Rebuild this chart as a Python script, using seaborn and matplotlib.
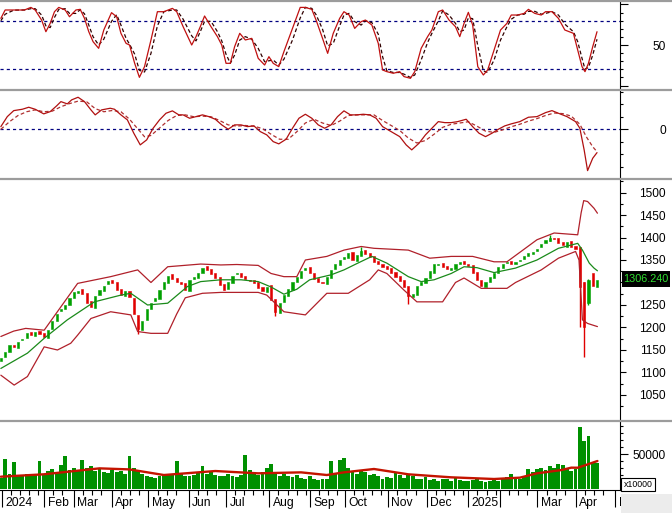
import numpy as np
import matplotlib
matplotlib.use("Agg")
import matplotlib.pyplot as plt
import matplotlib.transforms as mtransforms
from matplotlib.patches import Rectangle
from matplotlib.lines import Line2D
import seaborn as sns

# ---------------- data (x positions are candle index units) ----------------
closes = [1132,1145,1160,1156,1168,1175,1187,1183,1190,1186,
          1178,1194,1215,1231,1240,1250,1265,1278,1282,1274,
          1255,1245,1270,1283,1292,1303,1298,1284,1272,1280,
          1268,1230,1196,1215,1242,1255,1266,1283,1300,1315,
          1308,1300,1296,1283,1305,1312,1322,1333,1328,1318,
          1310,1294,1283,1300,1315,1320,1312,1308,1303,1298,
          1288,1280,1291,1262,1235,1254,1272,1285,1300,1313,
          1326,1332,1320,1308,1300,1298,1312,1328,1340,1350,
          1357,1366,1350,1362,1370,1364,1356,1346,1340,1335,
          1330,1322,1313,1304,1290,1270,1275,1292,1300,1309,
          1325,1340,1342,1335,1330,1332,1340,1346,1342,1336,
          1322,1305,1292,1302,1312,1322,1335,1342,1346,1342,
          1345,1350,1358,1365,1368,1375,1385,1394,1398,1396,
          1387,1384,1390,1380,1375,1290,1200,1305,1292,1306]
opens = [1125,1134,1146,1162,1154,1172,1176,1190,1181,1192,
         1188,1176,1196,1214,1236,1242,1250,1266,1276,1286,
         1276,1258,1244,1272,1280,1296,1305,1300,1286,1270,
         1282,1266,1228,1194,1217,1240,1258,1264,1285,1298,
         1318,1310,1302,1298,1282,1308,1310,1320,1336,1330,
         1320,1312,1296,1285,1298,1318,1322,1314,1306,1305,
         1300,1290,1278,1294,1264,1232,1256,1270,1283,1302,
         1311,1328,1334,1322,1310,1302,1296,1310,1330,1338,
         1352,1355,1368,1348,1360,1372,1366,1358,1348,1342,
         1337,1332,1324,1315,1306,1292,1268,1272,1294,1298,
         1310,1322,1338,1344,1337,1328,1330,1342,1348,1340,
         1338,1324,1306,1290,1300,1310,1320,1333,1344,1348,
         1340,1347,1352,1360,1364,1370,1378,1388,1392,1400,
         1398,1389,1380,1392,1382,1380,1300,1254,1320,1290]
wick_x = [32, 64, 95, 84, 128, 135, 136, 137]
wick_lo = [1186, 1226, 1253, 1362, 1392, 1201, 1135, 1250]
wick_hi = [1218, 1256, 1276, 1378, 1405, 1380, 1302, 1308]

volume = [16000,43000,22000,38000,20000,19000,21000,18000,20000,40000,
          22000,26000,28000,24000,35000,47000,27000,30000,26000,42000,
          30000,33000,26000,28000,25000,23000,27000,24000,26000,22000,
          47000,30000,27000,22000,19000,17000,16000,18000,22000,21000,
          20000,40000,22000,19000,18000,20000,24000,33000,22000,25000,
          20000,19000,18000,21000,19000,17000,20000,48000,27000,22000,
          20000,24000,30000,36000,24000,18000,22000,19000,17000,20000,
          16000,15000,18000,14000,13000,15000,14000,40000,22000,42000,
          44000,30000,25000,22000,26000,24000,20000,22000,18000,15000,
          17000,16000,24000,20000,16000,22000,18000,14000,15000,17000,
          13000,14000,12000,15000,14000,12000,16000,13000,11000,12000,
          13000,14000,11000,10000,12000,13000,11000,14000,17000,22000,
          15000,14000,17000,28000,24000,28000,30000,27000,33000,30000,
          36000,34000,30000,26000,28000,89000,69000,75000,38000,37000]
vma_x = [0,10,23,30,38,50,60,70,76,80,87,95,105,115,121,125,130.6,133,134.5,136.4,139.1]
vma_v = [17600,21000,29500,28000,20000,25700,22400,23800,20000,23800,28600,21000,
         16700,14300,16200,22400,27000,30500,30400,34300,40000]

up_x = [0,3,5.8,10.1,14,17.9,25.6,31.9,35,38.9,46.6,51.3,55,60,63,66,69,71,76,80,
        84,87,95,100,105,110,115,118,125,129,134.5,135.3,135.9,136.8,138.3,139.1]
up_v = [1180,1192,1198,1194,1246,1298,1313,1328,1300,1335,1341,1339,1340,1338,1320,1313,1313,1350,1358,1372,
        1380,1376,1372,1354,1358,1358,1346,1346,1395,1410,1406,1455,1482,1480,1465,1454]
lo_x = [0,3.1,6.2,10.1,13.2,16.3,17.9,21,25.6,30.3,31.9,35,38.9,41,43,47,51.3,56,60,62,
        66,71,76,81,86,88,90,94,97,103,106,108,112,118,120,126,130,134,134.8,135.6,136.8,139.1]
lo_v = [1094,1072,1091,1157,1150,1165,1183,1220,1235,1228,1191,1187,1187,1230,1266,1276,1278,1278,1278,1272,
        1235,1228,1276,1276,1306,1328,1320,1283,1257,1257,1300,1310,1287,1287,1300,1328,1354,1369,1350,1217,1209,1202]
ma_x = [0,6.2,10.1,15.5,21.8,28,30.3,34.2,38.9,43.5,46.6,51.3,56,60,63,66,69,72,77,80,
        83,86.5,90,95,98,101,105,108,111,115,120,125,130,134.5,135.6,137.2,138.3,139.1]
ma_v = [1109,1143,1176,1217,1257,1272,1276,1250,1254,1291,1302,1306,1306,1302,1290,1274,1285,1306,1317,1328,
        1342,1358,1343,1313,1302,1306,1320,1335,1333,1322,1332,1350,1376,1387,1372,1343,1332,1326]

stoch_x = [0,1,3,5.5,7,8,9.5,10.5,11.5,12.5,13.5,15,16,17.5,18.5,19.5,20.5,21.5,22.8,24,
           25.8,27,28,29.2,30,31.2,32.3,33.5,35,36.5,38,40,41,42.5,44.5,45.5,46.5,47.5,49,50.5,
           51.5,52.5,53.5,54.5,55.7,57,58.5,60,61.5,62.5,63.5,64.8,66,68,69.8,71,72.5,73.5,75,76.2,
           77.5,79,80,81.2,82.5,84,85,86.5,88,89,90,91.5,93,94,95.5,96.5,98,99.5,100.5,102,
           103,104.5,106,107,108,109,110,111.2,112.5,113.5,115,116.5,118,119,120.5,122,123,124.5,126,127,
           128.5,130,131.5,133.5,134.5,135.5,136.2,137,138,139]
stoch_k = [82.9,93.2,93.2,93.2,96.4,93.2,80.8,66.4,76.7,91.1,96.4,93.2,84.9,93.2,94,82.9,66.4,54.1,45.9,68.5,
           89.9,84.9,64.4,52,50,27.4,10.1,23.3,56.2,91.1,91.1,95.2,91.1,72.6,50,60.3,72.6,85.8,72.6,60.3,
           50,27.4,27.4,47.9,64.4,56.2,58.2,33.6,25.3,35.6,27.4,23.3,41.8,70.5,96.4,96.4,94,80.8,58.2,39.7,
           64.4,82.9,91.1,87,70.5,78.8,80.8,74.7,52,19.2,17.1,15.1,17.1,11,8.9,17.1,45.9,60.3,68.5,91.1,
           93.2,80.8,72.6,60.3,76.7,90.3,74.7,23.3,13,19.2,43.8,68.5,76.7,87,87,89,94,89,87,91.1,
           91.1,82.9,68.5,64.4,43.8,23.3,17.1,27.4,47.9,66.4]
stoch_d = [80,88,93,93.2,94.8,94.8,87,73.6,71.5,84,93.8,94.8,89,89,93.6,88.5,74.6,60.2,50,57.2,
           79.2,87.4,74.6,58.2,51,38.7,18.7,16.7,39.7,73.6,91.1,93.2,93.2,81.8,61.3,55.1,66.5,79.2,79.2,66.4,
           55.1,38.7,27.4,37.6,56.1,60.3,57.2,45.9,29.4,30.5,31.5,25.3,32.5,56.1,83.4,96.4,95.2,87.4,69.5,48.9,
           52,73.6,87,89,78.8,74.6,79.8,77.7,63.3,35.6,18.1,16.1,16.1,14,9.9,13,31.5,53.1,64.4,79.8,
           92.1,87,76.7,66.4,68.5,83.5,82.5,49,18.1,16.1,31.5,56.1,72.6,81.8,87,88,91.5,91.5,88,89,
           91.1,87,75.7,66.4,54.1,33.6,20.2,22.2,37.6,57.1]

macd_x = [0,1.5,3,5,6.5,8,10,11.5,13,14,15.5,16.5,18,19.5,21,22,23.5,25.5,26.5,28,
          29.5,31,32.5,34,35.5,37,38.5,40,41.5,42.5,44,45.5,47,48.5,50,51.5,53,54.5,56,57.5,
          59,60.5,62,63.5,64.8,66.5,68,69.5,71,72.5,74,75.5,77,78.5,80,81.5,83,84.5,86,87.5,
          89,91,93,94.5,95.8,97.5,99,100.5,102,103.5,105,106.5,108.5,110,111.5,113,114.5,116,117.5,119,
          121,123,125,127,128.5,130,132,134,135,136,136.8,138,139]
macd_v = [2.1,10.1,14.9,16,17.6,16,12.3,14.1,18.7,22.1,20.3,23.5,25.6,22.1,15.5,11.5,15.5,16.8,16,11.5,
          7.5,-3.2,-12.5,-8.5,0.8,7.5,12.8,14.7,11.5,11.5,8.8,10.1,11.5,10.1,8,3.5,0,3.5,3.5,2.1,
          2.7,-1.9,-4.5,-9.9,-11.7,-8,0.8,8.8,12,8.8,3.5,0.8,3.5,10.1,14.7,11.5,11.5,12,11.5,8.8,
          2.1,-1.9,-5.9,-12.5,-16.5,-11.2,-4.5,0.8,6.1,5.3,5.3,6.1,8,2.1,-3.2,-5.9,-3.2,0,2.7,4.3,
          6.1,9.6,10.1,13.3,14.9,12.8,10.1,6.1,0.8,-16.5,-33.1,-23.2,-18.7]
sig_x = [0,2,4,6,8,10,12,14,16,18,20,22,24,26,28,30,32,33.5,35,37,
         39,41,43,45,47,49,51,53,55,57,59,61,63,65,67,69,71,73,75,77,
         79,81,83,85,87,89,91,93,95,97,99,101,103,105,107,109,111,113,115,117,
         119,121,123,125,127,129,131,133,135,136.5,138,139]
sig_v = [0,6,11,14,15.5,14,14.5,18,20.5,22.5,22,16.5,14,15,14,8,0,-6,-5,1,
         7,11,11.5,10,10.5,10,7,3.5,2.5,3,2.5,0.5,-4,-8,-8,-2,5,8,5,3,
         6.5,11,11.5,11.5,11.5,7,3,-1,-7,-11,-9,-4,1.5,4,5,6,2.5,-1.5,-2.5,-0.5,
         2,4,6.5,8.5,11,13,12.5,10.5,4,-6,-14,-18]

month_pos = [0.23,10.1,16.95,25.9,34.4,43.8,52.5,62.6,72.1,80.2,90.3,99.3,109,116.3,125.1,134.1,143.3]
month_lbl = ['2024','Feb','Mar','Apr','May','Jun','Jul','Aug','Sep','Oct','Nov','Dec','2025','','Mar','Apr','May']
price_ticks = [1050, 1100, 1150, 1200, 1250, 1300, 1350, 1400, 1450, 1500]
price_tick_lbl = ['1050', '1100', '1150', '1200', '1250', '', '1350', '1400', '1450', '1500']
last_price_label = '1306.240'

# ---------------- styling ----------------
sns.set_style('white')
plt.rcParams['font.family'] = ['Liberation Sans', 'DejaVu Sans']

W, H = 672, 513
fig = plt.figure(figsize=(W / 100, H / 100), dpi=100)
fig.patch.set_facecolor('white')

def px_axes(top, bottom, left=0, right=620):
    return fig.add_axes([left / W, 1 - bottom / H, (right - left) / W, (bottom - top) / H])

ax1 = px_axes(1, 89)
ax2 = px_axes(91, 178)
ax3 = px_axes(180, 420)
ax4 = px_axes(422, 490)

PXPT = 0.72
GREEN = '#00a000'
RED = '#e00000'
BAND = '#b0202a'
NAVY = '#000080'
LBL = 8.6

for ax in (ax1, ax2, ax3, ax4):
    ax.set_facecolor('white')
    ax.set_xlim(-0.2, 144.36)
    for s in ('top', 'left', 'bottom'):
        ax.spines[s].set_visible(False)
    ax.spines['right'].set_visible(True)
    ax.spines['right'].set_color('black')
    ax.spines['right'].set_linewidth(0.8)
    ax.grid(False)

def right_ticks(ax, major, labels, minor, maj_len_px=8, min_len_px=3):
    ax.yaxis.tick_right()
    ax.set_yticks(major)
    ax.set_yticklabels(labels)
    ax.set_yticks(minor, minor=True)
    ml = maj_len_px * PXPT
    ax.tick_params(axis='y', which='major', right=True, length=ml, width=0.8, direction='out',
                   pad=33.1 - ml, labelsize=LBL, color='black', labelcolor='black')
    ax.tick_params(axis='y', which='minor', right=True, length=min_len_px * PXPT, width=0.8,
                   direction='out', color='black')
    for t in ax.get_yticklabels():
        t.set_horizontalalignment('right')

for ax in (ax1, ax2, ax3):
    ax.tick_params(axis='x', which='both', bottom=False, labelbottom=False)

def line(ax, x, y, color, lw=0.9, ls='-', z=4):
    sns.lineplot(x=x, y=y, ax=ax, color=color, lw=lw, linestyle=ls, estimator=None, sort=False, zorder=z)
    ax.set_xlabel('')
    ax.set_ylabel('')

# ---- panel 1: stochastic ----
ax1.axhline(80, color=NAVY, lw=0.9, ls=(0, (2.5, 2.5)))
ax1.axhline(20, color=NAVY, lw=0.9, ls=(0, (2.5, 2.5)))
line(ax1, stoch_x, stoch_d, '#300000', lw=0.9, ls=(0, (3, 2)))
line(ax1, stoch_x, stoch_k, '#c01010', lw=0.9)
ax1.set_ylim(-4.3, 104.3)
right_ticks(ax1, [0, 50, 100], ['', '50', ''], list(range(10, 100, 10)))

# ---- panel 2: MACD ----
ax2.axhline(0, color=NAVY, lw=0.9, ls=(0, (2.5, 2.5)))
line(ax2, sig_x, sig_v, '#b03030', lw=0.9, ls=(0, (3, 2)))
line(ax2, macd_x, macd_v, '#b01010', lw=0.9)
ax2.set_ylim(-39, 30.6)
right_ticks(ax2, [0], ['0'], [-30, -20, -10, 10, 20, 30])

# ---- panel 3: price ----
xk = np.arange(len(closes))
o = np.array(opens, dtype=float)
c = np.array(closes, dtype=float)
cols = np.where(c >= o, GREEN, RED)
ax3.vlines(wick_x, wick_lo, wick_hi, colors=[cols[i] for i in wick_x], lw=1.0, zorder=2)
ax3.bar(xk, c - o, bottom=o, width=0.5, color=cols, edgecolor=cols, linewidth=0.4, zorder=3)
line(ax3, up_x, up_v, BAND, lw=0.9)
line(ax3, lo_x, lo_v, BAND, lw=0.9)
line(ax3, ma_x, ma_v, '#1a8a1a', lw=0.9)
ax3.set_ylim(994.4, 1527.8)
right_ticks(ax3, price_ticks, price_tick_lbl, list(range(1025, 1526, 50)), maj_len_px=6)

# ---- panel 4: volume ----
ax4.bar(xk, volume, width=0.9, color='#009000', linewidth=0, zorder=2)
line(ax4, vma_x, vma_v, '#c41400', lw=1.7)
ax4.set_ylim(-1400, 95700)
right_ticks(ax4, [50000], ['50000'], [10000, 20000, 30000, 40000, 60000, 70000, 80000, 90000])
ax4.spines['bottom'].set_visible(True)
ax4.spines['bottom'].set_color('black')
ax4.spines['bottom'].set_linewidth(0.8)
ax4.set_xticks(month_pos)
ax4.set_xticklabels([''] * len(month_pos))
minor_x = []
for a, b in zip(month_pos[:-1], month_pos[1:]):
    m = a + 2.13
    while m < b - 0.9:
        minor_x.append(m)
        m += 2.13
ax4.set_xticks(minor_x, minor=True)
ax4.tick_params(axis='x', which='major', bottom=True, length=17 * PXPT, width=0.8, direction='out', color='black')
ax4.tick_params(axis='x', which='minor', bottom=True, length=5 * PXPT, width=0.8, direction='out', color='black')
blend = mtransforms.blended_transform_factory(ax4.transData, ax4.transAxes)
off = mtransforms.offset_copy(blend, fig=fig, x=2.4, y=0, units='points')
for p, lab in zip(month_pos, month_lbl):
    ax4.text(p, -0.19, lab, transform=off, ha='left', va='center', fontsize=8.7, color='black', clip_on=False)

# ---------------- figure-level decorations ----------------
def fy(y):
    return 1 - y / H

for ysep in (0.6, 90, 179, 421):
    fig.add_artist(Line2D([0, 1], [fy(ysep), fy(ysep)], transform=fig.transFigure,
                          color='#9c9c9c', lw=1.6, zorder=6))

fig.add_artist(Rectangle((620.5 / W, fy(513)), (W - 620.5) / W, 19 / H, transform=fig.transFigure,
                         facecolor='#ececec', edgecolor='none', zorder=5))
fig.add_artist(Rectangle((621 / W, fy(491)), 34 / W, 13 / H, transform=fig.transFigure,
                         facecolor='white', edgecolor='black', lw=0.8, zorder=6))
fig.text(638 / W, fy(484.5), 'x10000', fontsize=6.3, ha='center', va='center', color='black', zorder=7)

fig.add_artist(Rectangle((622 / W, fy(286.5)), 48 / W, 16 / H, transform=fig.transFigure,
                         facecolor='black', edgecolor='none', zorder=6))
fig.text(646 / W, fy(278.5), last_price_label, fontsize=7.8, ha='center', va='center',
         color='#30e030', zorder=7)

fig.savefig('out.png', dpi=100, facecolor='white')
